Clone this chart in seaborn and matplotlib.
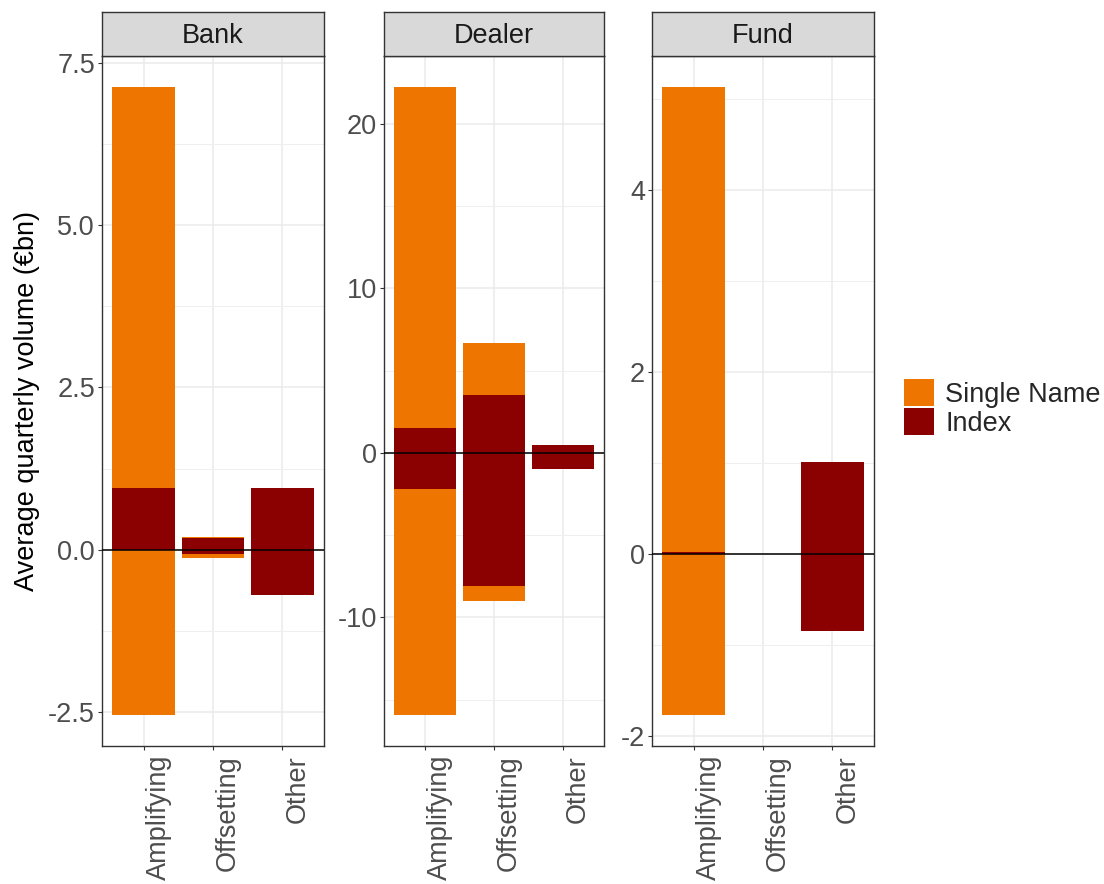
import numpy as np
import pandas as pd
import seaborn as sns
import matplotlib.pyplot as plt
from matplotlib.patches import Patch
from matplotlib.ticker import FixedLocator
import matplotlib.transforms as mtrans

sectors = ["Bank", "Dealer", "Fund"]
categories = ["Amplifying", "Offsetting", "Other"]

# stacked pieces: Index sits next to zero, Single Name stacked outside it
index_pos = {"Bank": [0.95, 0.18, 0.95], "Dealer": [1.5, 3.5, 0.5], "Fund": [0.03, 0.0, 1.02]}
index_neg = {"Bank": [0.0, -0.07, -0.69], "Dealer": [-2.2, -8.1, -1.0], "Fund": [0.0, 0.0, -0.84]}
single_pos = {"Bank": [6.17, 0.02, 0.0], "Dealer": [20.7, 3.2, 0.0], "Fund": [5.10, 0.0, 0.0]}
single_neg = {"Bank": [-2.54, -0.06, 0.0], "Dealer": [-13.7, -0.9, 0.0], "Fund": [-1.76, 0.0, 0.0]}

yticks = {"Bank": [-2.5, 0.0, 2.5, 5.0, 7.5], "Dealer": [-10, 0, 10, 20], "Fund": [-2, 0, 2, 4]}
ytick_labels = {"Bank": ["-2.5", "0.0", "2.5", "5.0", "7.5"],
                "Dealer": ["-10", "0", "10", "20"],
                "Fund": ["-2", "0", "2", "4"]}

ORANGE = "#EE7600"
DARKRED = "#8B0000"
FS = 19.5

sns.set_theme(style="white")
plt.rcParams["font.family"] = ["Liberation Sans", "DejaVu Sans"]

W, H = 1104, 884
fig = plt.figure(figsize=(W / 100, H / 100), dpi=100)

panel_x = [(102, 324), (384, 604), (652, 874)]
p_top, p_bot, s_top = 56, 746, 12

for k, sec in enumerate(sectors):
    x0, x1 = panel_x[k]
    ax = fig.add_axes([x0 / W, 1 - p_bot / H, (x1 - x0) / W, (p_bot - p_top) / H])
    sax = fig.add_axes([x0 / W, 1 - p_top / H, (x1 - x0) / W, (p_top - s_top) / H])

    pos_total = np.array(index_pos[sec]) + np.array(single_pos[sec])
    neg_total = np.array(index_neg[sec]) + np.array(single_neg[sec])
    df = pd.DataFrame({"cat": categories, "pos_total": pos_total, "neg_total": neg_total,
                       "ipos": index_pos[sec], "ineg": index_neg[sec]})

    for col, c in [("pos_total", ORANGE), ("neg_total", ORANGE), ("ipos", DARKRED), ("ineg", DARKRED)]:
        sns.barplot(data=df, x="cat", y=col, order=categories, color=c, width=0.9,
                    linewidth=0, saturation=1, errorbar=None, ax=ax)

    ax.axhline(0, color="black", lw=1.1, zorder=5)

    lo, hi = min(neg_total.min(), 0), max(pos_total.max(), 0)
    pad = (hi - lo) * 0.05
    ax.set_ylim(lo - pad, hi + pad)
    ax.set_xlim(-0.6, 2.6)

    ax.yaxis.set_major_locator(FixedLocator(yticks[sec]))
    ax.set_yticklabels(ytick_labels[sec])
    t = yticks[sec]
    step = t[1] - t[0]
    minors = np.arange(t[0] - step / 2, t[-1] + step, step)
    ax.yaxis.set_minor_locator(FixedLocator(minors))

    ax.set_axisbelow(True)
    ax.grid(True, which="major", color="#EBEBEB", lw=1.1)
    ax.grid(True, which="minor", axis="y", color="#EFEFEF", lw=0.7)
    ax.set_facecolor("white")
    for s in ax.spines.values():
        s.set_color("#333333")
        s.set_linewidth(1.0)
        s.set_visible(True)

    ax.tick_params(axis="both", which="major", length=3, width=0.8, color="#333333",
                   labelsize=FS, labelcolor="#4D4D4D", pad=2, left=True, bottom=True)
    ax.tick_params(axis="y", which="minor", length=0)
    ax.set_xticks(range(len(categories)))
    ax.set_xticklabels(categories, rotation=90, ha="left", va="top")
    shift = mtrans.ScaledTranslation(2 / 100, -2 / 100, fig.dpi_scale_trans)
    for lab in ax.get_xticklabels():
        lab.set_transform(lab.get_transform() + shift)

    ax.set_xlabel("")
    if k == 0:
        ax.set_ylabel("Average quarterly volume (€bn)", fontsize=FS, color="black", labelpad=6)
    else:
        ax.set_ylabel("")

    sax.set_facecolor("#D9D9D9")
    sax.set_xticks([])
    sax.set_yticks([])
    for s in sax.spines.values():
        s.set_color("#333333")
        s.set_linewidth(1.0)
    sax.text(0.5, 0.45, sec, ha="center", va="center", fontsize=FS, color="#1A1A1A",
             transform=sax.transAxes)

handles = [Patch(facecolor=ORANGE, edgecolor="none", label="Single Name"),
           Patch(facecolor=DARKRED, edgecolor="none", label="Index")]
fig.legend(handles=handles, loc="center left", bbox_to_anchor=(904 / W, 1 - 408 / H),
           frameon=False, fontsize=FS, handlelength=1.1, handleheight=1.16,
           labelspacing=0, handletextpad=0.42, borderpad=0, borderaxespad=0)

fig.savefig("out.png", dpi=100)
